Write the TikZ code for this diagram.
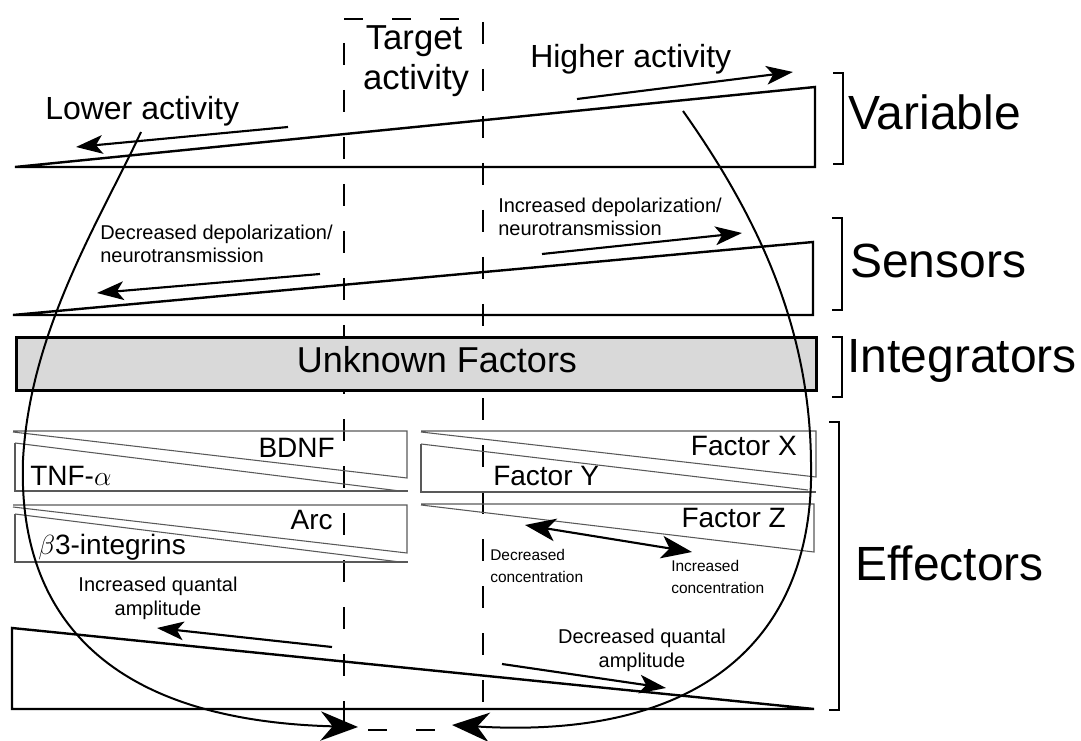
\documentclass[tikz,border=0pt]{standalone}
\usepackage{fontspec}
\setmainfont{Liberation Sans}
\usetikzlibrary{arrows.meta}
\tikzset{
  wedge/.style={line width=1.8pt, line join=miter},
  thinbox/.style={line width=0.8pt, draw=black!65},
  arr/.style={line width=1.6pt, -{Stealth[length=20pt,width=14pt,inset=5pt]}},
  dblarr/.style={line width=1.6pt, {Stealth[length=23pt,width=17pt,inset=6pt]}-{Stealth[length=23pt,width=17pt,inset=6pt]}},
  loopline/.style={line width=1.5pt, -{Stealth[length=28pt,width=22pt,inset=9pt]}},
  vdash/.style={line width=1.5pt, dash pattern=on 16.5pt off 18.75pt},
  hdash/.style={line width=1.5pt, dash pattern=on 14.25pt off 21.75pt},
  bracketline/.style={line width=1.5pt},
  biglbl/.style={inner sep=0pt, anchor=base west, font=\fontsize{36}{40}\selectfont},
  midlbl/.style={inner sep=0pt, font=\fontsize{24}{28}\selectfont},
  factlbl/.style={inner sep=0pt, font=\fontsize{21}{24}\selectfont},
  smalllbl/.style={inner sep=0pt, font=\fontsize{15}{17.5}\selectfont},
  tinylbl/.style={inner sep=0pt, align=left, font=\fontsize{11.6}{16.5}\selectfont},
}
\begin{document}
\begin{tikzpicture}[x=0.75pt,y=-0.75pt]
\useasboundingbox (0,0) rectangle (1081,741);
% dashed guides
\draw[vdash] (344,43) -- (344,741);
\draw[vdash] (483,22) -- (483,704);
\draw[hdash] (344,19) -- (483,19);
\draw[hdash] (368,730) -- (440,730);
% Target activity
\node[inner sep=0pt, anchor=base, font=\fontsize{26}{30}\selectfont] (tgt1) at (414,50) {Target};
\node[inner sep=0pt, anchor=base, font=\fontsize{26}{30}\selectfont] (tgt2) at (416,90) {activity};
% Variable wedge
\draw[wedge] (15,167) -- (815,167) -- (815,87) -- cycle;
\node[midlbl, anchor=base west] (lower) at (45,120) {Lower activity};
\node[midlbl, anchor=base west] (higher) at (530,68) {Higher activity};
\coordinate (la1) at (288,127); \coordinate (la2) at (76,147);
\coordinate (ha1) at (577,99); \coordinate (ha2) at (793,72);
\draw[arr] (la1) -- (la2);
\draw[arr] (ha1) -- (ha2);
% Sensors wedge
\draw[wedge] (13,315) -- (813,315) -- (813,242) -- cycle;
\node[smalllbl, anchor=base west, align=left] (decdep) at (100,263) {Decreased depolarization/\\neurotransmission};
\node[smalllbl, anchor=base west, align=left] (incdep) at (498,236) {Increased depolarization/\\neurotransmission};
\coordinate (dd1) at (320,274); \coordinate (dd2) at (97,293);
\coordinate (id1) at (542,254); \coordinate (id2) at (742,233);
\draw[arr] (dd1) -- (dd2);
\draw[arr] (id1) -- (id2);
% Integrators box
\node[draw, line width=2pt, fill=black!15, minimum width=800*0.75pt, minimum height=53*0.75pt, inner sep=0pt, anchor=north west] (integ) at (15,336) {};
\node[inner sep=0pt, anchor=base, font=\fontsize{27}{30}\selectfont] (unk) at (437,373) {Unknown Factors};
% Effector factor triangles (left group)
\draw[thinbox] (13,431) -- (407,431) -- (407,478) -- (13,432);
\draw[thinbox] (15,443) -- (15,491) -- (408,491);
\draw[thinbox] (15,443) -- (400,491);
\draw[thinbox] (13,505) -- (407,505) -- (407,553) -- (13,507);
\draw[thinbox] (15,514) -- (15,562) -- (408,562);
\draw[thinbox] (15,514) -- (400,562);
% right group
\draw[thinbox] (421,431) -- (816,431) -- (816,477) -- (421,432);
\draw[thinbox] (421,444) -- (421,492) -- (816,492);
\draw[thinbox] (421,444) -- (808,490);
\draw[thinbox] (421,504) -- (814,504) -- (814,552) -- (421,505);
% factor labels
\node[factlbl, anchor=base east] (bdnf) at (335,457) {BDNF};
\node[factlbl, anchor=base west] (tnf) at (30,485) {TNF-$\alpha$};
\node[factlbl, anchor=base east] (arc) at (333,529) {Arc};
\node[factlbl, anchor=base west] (beta) at (38,554) {$\beta$3-integrins};
\node[factlbl, anchor=base east] (fx) at (797,455) {Factor X};
\node[factlbl, anchor=base west] (fy) at (493,485) {Factor Y};
\node[factlbl, anchor=base east] (fz) at (786,527) {Factor Z};
% concentration
\coordinate (c1) at (525,525); \coordinate (c2) at (692,552);
\draw[dblarr] (c1) -- (c2);
\node[tinylbl, anchor=base west] (decc) at (490,582) {Decreased\\concentration};
\node[tinylbl, anchor=base west] (incc) at (671,593) {Increased\\concentration};
% Effectors wedge
\draw[wedge] (12,628) -- (12,709) -- (814,709) -- cycle;
\node[smalllbl, anchor=base, align=center] (incq) at (158,615) {Increased quantal\\amplitude};
\node[smalllbl, anchor=base, align=center] (decq) at (642,667) {Decreased quantal\\amplitude};
\coordinate (iq1) at (332,647); \coordinate (iq2) at (157,628);
\coordinate (dq1) at (502,664); \coordinate (dq2) at (666,688);
\draw[arr] (iq1) -- (iq2);
\draw[arr] (dq1) -- (dq2);
% brackets
\draw[bracketline] (833,73) -- (843,73) -- (843,164) -- (833,164);
\node[biglbl] (var) at (848,130) {Variable};
\draw[bracketline] (832,218) -- (842,218) -- (842,310) -- (832,310);
\node[biglbl] (sens) at (850,278) {Sensors};
\draw[bracketline] (832,337) -- (842,337) -- (842,397) -- (832,397);
\node[biglbl] (intl) at (847,373) {Integrators};
\draw[bracketline] (829,422) -- (839,422) -- (839,710) -- (829,710);
\node[biglbl] (eff) at (855,580) {Effectors};
% feedback loops
\coordinate (lstart) at (141,132); \coordinate (lmid) at (23,460); \coordinate (lend) at (358,727);
\coordinate (rstart) at (683,111); \coordinate (rmid) at (811,463); \coordinate (rend) at (452,725);
\draw[loopline] (lstart) .. controls (100,220) and (30,330) .. (lmid)
                         .. controls (18,600) and (90,720) .. (lend);
\draw[loopline] (rstart) .. controls (760,220) and (810,330) .. (rmid)
                         .. controls (815,640) and (700,740) .. (rend);
\end{tikzpicture}
\end{document}
